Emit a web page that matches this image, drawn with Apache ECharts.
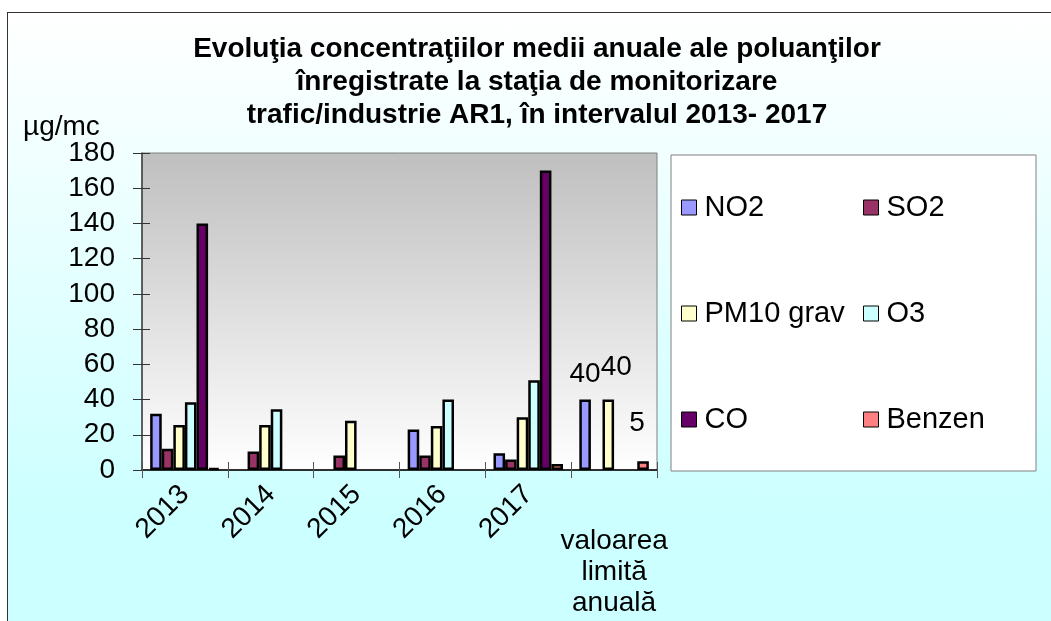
<!DOCTYPE html>
<html>
<head>
<meta charset="utf-8">
<script src="https://cdn.jsdelivr.net/npm/echarts@6/dist/echarts.min.js"></script>
<style>
  html, body { margin: 0; padding: 0; background: #fff; overflow: hidden; }
  #frame {
    position: absolute; left: 7px; top: 12px; width: 1060px; height: 630px;
    border: 1.5px solid #333;
    background: linear-gradient(to bottom, #ffffff 0%, #ccffff 80%, #ccffff 100%);
  }
  #main { position: absolute; left: 0; top: 0; width: 1051px; height: 621px; }
</style>
</head>
<body>
<div id="frame"></div>
<div id="main"></div>
<script>
  // valori (µg/mc)
  var categories = ['2013', '2014', '2015', '2016', '2017', 'valoarea\nlimită\nanuală'];
  var no2    = [32, null, null, 23, 9.5, 40];
  var so2    = [12, 10.5, 8.3, 8.3, 6, null];
  var pm10   = [25.5, 25.5, 28, 25, 30, 40];
  var o3     = [38.5, 34.5, null, 40, 51, null];
  var co     = [140, null, null, null, 170, null];
  var benzen = [1, null, null, null, 3.4, 5];
  var yTicks = { min: 0, max: 180, interval: 20 };

  var limitIdx = categories.length - 1;
  var font = '"Liberation Sans", Arial, sans-serif';

  var seriesDef = [
    { name: 'NO2',       data: no2,    color: '#9999ff', labelOffset: [0, 0] },
    { name: 'SO2',       data: so2,    color: '#993366', labelOffset: [0, 0] },
    { name: 'PM10 grav', data: pm10,   color: '#ffffcc', labelOffset: [8, -7] },
    { name: 'O3',        data: o3,     color: '#ccffff', labelOffset: [0, 0] },
    { name: 'CO',        data: co,     color: '#660066', labelOffset: [0, 0] },
    { name: 'Benzen',    data: benzen, color: '#ff8080', labelOffset: [-6, -13] }
  ];

  var chart = echarts.init(document.getElementById('main'));

  var series = seriesDef.map(function (s) {
    return {
      name: s.name,
      type: 'bar',
      barGap: 0,
      barCategoryGap: '19%',
      itemStyle: { color: s.color, borderColor: '#000', borderWidth: 2.5 },
      data: s.data.map(function (v, i) {
        if (i === limitIdx && v != null) {
          return {
            value: v,
            label: {
              show: true, position: 'top', distance: 11, offset: s.labelOffset,
              color: '#000', fontSize: 28, fontFamily: font
            }
          };
        }
        return v;
      })
    };
  });

  var legendBase = {
    orient: 'vertical', top: 188, itemGap: 77,
    itemWidth: 15, itemHeight: 15, icon: 'rect',
    itemStyle: { borderColor: '#000', borderWidth: 1 },
    textStyle: { fontSize: 29, color: '#000', fontFamily: font, padding: [0, 0, 0, 3] }
  };

  var option = {
    animation: false,
    textStyle: { fontFamily: font, color: '#000' },
    title: [
      {
        text: 'Evoluţia concentraţiilor medii anuale ale poluanţilor\nînregistrate la staţia de monitorizare\ntrafic/industrie AR1, în intervalul 2013- 2017',
        left: 532, top: 28, textAlign: 'center',
        textStyle: { fontSize: 28, fontWeight: 'bold', lineHeight: 33, color: '#000', fontFamily: font }
      },
      {
        text: 'µg/mc', left: 18, top: 108,
        textStyle: { fontSize: 28, fontWeight: 'normal', color: '#000', fontFamily: font }
      }
    ],
    graphic: [{
      type: 'rect', z: -1,
      shape: { x: 671, y: 155, width: 365, height: 316 },
      style: { fill: '#fff', stroke: '#808080', lineWidth: 1 }
    }],
    legend: [
      Object.assign({ data: ['NO2', 'PM10 grav', 'CO'], left: 676 }, legendBase),
      Object.assign({ data: ['SO2', 'O3', 'Benzen'], left: 858 }, legendBase)
    ],
    grid: {
      left: 142, right: 394, top: 153, bottom: 151,
      show: true, borderColor: '#808080', borderWidth: 1,
      backgroundColor: new echarts.graphic.LinearGradient(0, 0, 0, 1, [
        { offset: 0, color: '#bfbfbf' },
        { offset: 1, color: '#ffffff' }
      ])
    },
    xAxis: [
      {
        type: 'category', data: categories, boundaryGap: true,
        axisLine: { lineStyle: { color: '#000', width: 1.5 } },
        axisTick: { show: true, interval: 0, length: 8, lineStyle: { color: '#555' } },
        axisLabel: {
          interval: 0, rotate: 45, margin: 20, fontSize: 28, color: '#000', fontFamily: font,
          formatter: function (v, i) { return i === limitIdx ? '' : v; }
        }
      },
      {
        type: 'category', data: categories, boundaryGap: true, position: 'bottom',
        axisLine: { show: false },
        axisTick: { show: true, inside: true, interval: 0, length: 8, lineStyle: { color: '#555' } },
        axisLabel: {
          interval: 0, rotate: 0, margin: 56, fontSize: 28, lineHeight: 31, color: '#000', fontFamily: font,
          formatter: function (v, i) { return i === limitIdx ? v : ''; }
        }
      }
    ],
    yAxis: [
      {
        type: 'value', min: yTicks.min, max: yTicks.max, interval: yTicks.interval,
        splitLine: { show: false },
        axisLine: { show: true, lineStyle: { color: '#404040', width: 1.5 } },
        axisTick: { show: true, length: 9, lineStyle: { color: '#333' } },
        axisLabel: { margin: 27, fontSize: 28, color: '#000', fontFamily: font }
      },
      {
        type: 'value', min: yTicks.min, max: yTicks.max, interval: yTicks.interval, position: 'left',
        splitLine: { show: false },
        axisLine: { show: false },
        axisTick: { show: true, inside: true, length: 8, lineStyle: { color: '#333' } },
        axisLabel: { show: false }
      }
    ],
    series: series
  };

  chart.setOption(option);
  window.addEventListener('resize', function () { chart.resize(); });
</script>
</body>
</html>
